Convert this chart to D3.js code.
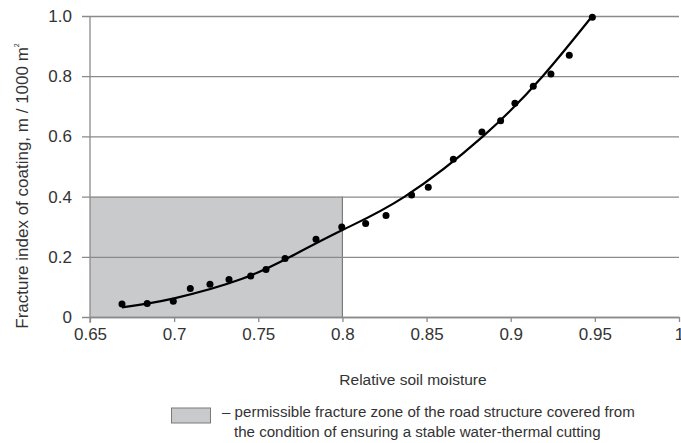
<!DOCTYPE html>
<html><head><meta charset="utf-8">
<script src="https://cdn.jsdelivr.net/npm/d3@7"></script>
<style>
html,body{margin:0;padding:0;background:#fff;}
text{font-family:"Liberation Sans",Arial,sans-serif;fill:#333;}
</style></head>
<body><svg id="c" width="681" height="443"></svg>
<script>
// Measured points
const moisture = [0.669,0.684,0.6995,0.7096,0.7213,0.7326,0.7455,0.7546,0.7659,0.7843,0.7996,0.8138,0.8259,0.8411,0.851,0.8659,0.8829,0.894,0.9025,0.9134,0.9239,0.9348,0.9485];
const fracture = [0.043,0.045,0.052,0.095,0.109,0.125,0.136,0.158,0.194,0.258,0.299,0.311,0.337,0.405,0.431,0.524,0.615,0.652,0.71,0.767,0.807,0.87,0.996];
// Trend line
const trendX = [0.669,0.70,0.74,0.769,0.80,0.837,0.8835,0.919,0.9485];
const trendY = [0.032,0.062,0.126,0.2,0.289,0.4,0.6,0.8,1.0];
// Permissible zone
const zoneX = [0.65,0.8];
const zoneY = [0,0.4];
const xTicks = [0.65,0.7,0.75,0.8,0.85,0.9,0.95,1];
const xTickLabels = ["0.65","0.7","0.75","0.8","0.85","0.9","0.95","1"];
const yTicks = [0,0.2,0.4,0.6,0.8,1.0];
const yTickLabels = ["0","0.2","0.4","0.6","0.8","1.0"];

const svg = d3.select("#c");
const x = d3.scaleLinear().domain([0.65,1]).range([90,679]);
const y = d3.scaleLinear().domain([0,1]).range([317,16]);
const gridColor = "#8a8a8a";

// zone
svg.append("rect")
  .attr("x", x(zoneX[0])).attr("y", y(zoneY[1]))
  .attr("width", x(zoneX[1]) - x(zoneX[0])).attr("height", y(zoneY[0]) - y(zoneY[1]))
  .attr("fill", "#c9cacc");
svg.append("line")
  .attr("x1", x(zoneX[1])).attr("x2", x(zoneX[1]))
  .attr("y1", y(zoneY[1])).attr("y2", y(zoneY[0]))
  .attr("stroke", "#7a7a7a").attr("stroke-width", 1.2);

// y gridlines & labels
const yAxis = d3.axisLeft(y).tickValues(yTicks)
  .tickFormat((d,i)=>yTickLabels[i]).tickSize(-(679-82)).tickPadding(10);
const gy = svg.append("g").attr("transform","translate(82,0)").call(yAxis);
gy.select(".domain").remove();
gy.selectAll(".tick line").attr("stroke", gridColor).attr("stroke-width",1.3);
gy.selectAll(".tick text").attr("font-size","17px").attr("fill","#333")
  .style("font-family","'Liberation Sans',Arial,sans-serif");

// x axis
const xAxis = d3.axisBottom(x).tickValues(xTicks)
  .tickFormat((d,i)=>xTickLabels[i]).tickSize(5).tickPadding(6).tickSizeOuter(0);
const gx = svg.append("g").attr("transform","translate(0,317)").call(xAxis);
gx.select(".domain").attr("stroke", gridColor).attr("stroke-width",1.3);
gx.selectAll(".tick line").attr("stroke", gridColor).attr("stroke-width",1.3);
gx.selectAll(".tick text").attr("font-size","17px").attr("fill","#333")
  .style("font-family","'Liberation Sans',Arial,sans-serif");

// y axis line
svg.append("line").attr("x1",90).attr("x2",90).attr("y1",y(1)).attr("y2",323)
  .attr("stroke", gridColor).attr("stroke-width",1.3);

// trend line
const line = d3.line().x(d=>x(d[0])).y(d=>y(d[1])).curve(d3.curveNatural);
svg.append("path").datum(trendX.map((v,i)=>[v,trendY[i]]))
  .attr("d", line).attr("fill","none").attr("stroke","#000").attr("stroke-width",2.2);

// points
svg.append("g").selectAll("circle").data(moisture.map((v,i)=>[v,fracture[i]]))
  .join("circle").attr("cx",d=>x(d[0])).attr("cy",d=>y(d[1])).attr("r",3.5).attr("fill","#000");

// titles
svg.append("text").attr("x",413).attr("y",385).attr("text-anchor","middle")
  .attr("font-size","15.5px").text("Relative soil moisture");
const yt = svg.append("text").attr("transform","translate(28,186) rotate(-90)")
  .attr("text-anchor","middle").attr("font-size","17px");
yt.append("tspan").text("Fracture index of coating, m / 1000 m");
yt.append("tspan").attr("font-size","7px").attr("dy","-9").text("2");

// legend
svg.append("rect").attr("x",171.5).attr("y",408).attr("width",39).attr("height",15)
  .attr("fill","#c9cacc").attr("stroke","#7a7a7a").attr("stroke-width",1);
svg.append("text").attr("x",222).attr("y",417).attr("font-size","15.1px")
  .text("– permissible fracture zone of the road structure covered from");
svg.append("text").attr("x",234).attr("y",437).attr("font-size","15.1px")
  .text("the condition of ensuring a stable water-thermal cutting");
</script></body></html>
